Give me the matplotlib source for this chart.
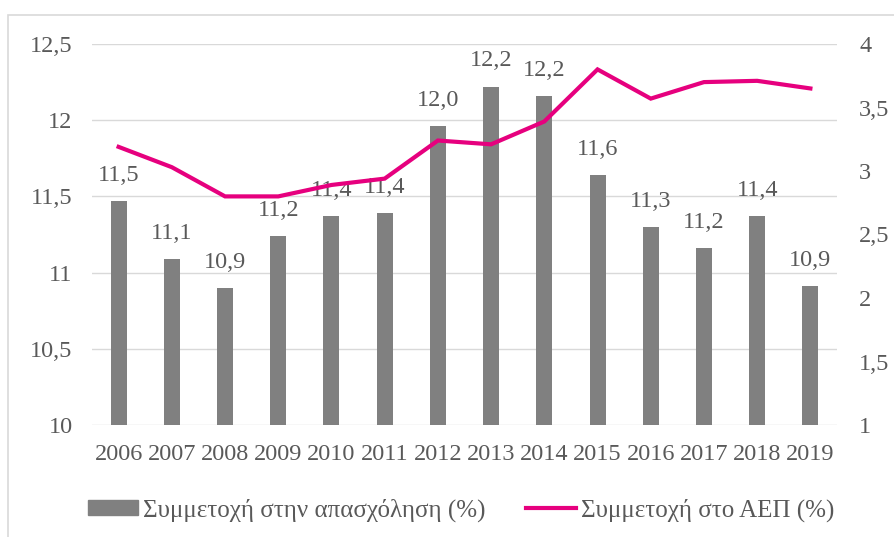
import numpy as np
import matplotlib.pyplot as plt
from matplotlib.patches import Rectangle
from matplotlib.lines import Line2D

years = ["2006", "2007", "2008", "2009", "2010", "2011", "2012",
         "2013", "2014", "2015", "2016", "2017", "2018", "2019"]
employment = [11.47, 11.09, 10.90, 11.24, 11.37, 11.39, 11.96,
              12.22, 12.16, 11.64, 11.30, 11.16, 11.37, 10.91]
gdp = [3.19, 3.03, 2.80, 2.80, 2.89, 2.94, 3.24,
       3.21, 3.39, 3.80, 3.57, 3.70, 3.71, 3.65]

bar_name = "Συμμετοχή στην απασχόληση (%)"
line_name = "Συμμετοχή στο ΑΕΠ (%)"

plt.rcParams['font.family'] = ['Liberation Serif', 'DejaVu Serif']
txt = "#595959"
bar_col = "#808080"
line_col = "#E6007E"
fs = 17.5

fig = plt.figure(figsize=(8.94, 5.37), dpi=100)
# chart frame
fig.patches.append(Rectangle((8 / 894, -0.1), 1.0, 1 - 15 / 537 + 0.1,
                             transform=fig.transFigure, fill=False,
                             edgecolor="#d9d9d9", linewidth=1.2))

ax = fig.add_axes([92 / 894, 1 - 425 / 537, (837 - 92) / 894, (425 - 44) / 537])
x = np.arange(len(years))
ax.bar(x, employment, width=0.3, color=bar_col, zorder=2)
ax.set_ylim(10, 12.5)
ax.set_xlim(-0.5, len(years) - 0.5)
ax.set_yticks([10, 10.5, 11, 11.5, 12, 12.5])
ax.set_yticklabels(["10", "10,5", "11", "11,5", "12", "12,5"])
ax.set_xticks(x)
ax.set_xticklabels(years)
ax.grid(axis="y", color="#d9d9d9", linewidth=1, zorder=0)
ax.set_axisbelow(True)
for s in ax.spines.values():
    s.set_visible(False)
ax.tick_params(axis="y", length=0, pad=14, labelsize=fs, labelcolor=txt)
ax.tick_params(axis="x", length=0, pad=14, labelsize=fs, labelcolor=txt)

for xi, v in zip(x, employment):
    ax.annotate(f"{v:.1f}".replace(".", ","), (xi, v), xytext=(0, 11),
                textcoords="offset points", ha="center", va="bottom",
                fontsize=fs, color=txt)

ax2 = ax.twinx()
ax2.plot(x, gdp, color=line_col, linewidth=3, solid_joinstyle="miter", zorder=3)
ax2.set_ylim(1, 4)
ax2.set_yticks([1, 1.5, 2, 2.5, 3, 3.5, 4])
ax2.set_yticklabels(["1", "1,5", "2", "2,5", "3", "3,5", "4"])
for s in ax2.spines.values():
    s.set_visible(False)
ax2.tick_params(axis="y", length=0, pad=16, labelsize=fs, labelcolor=txt)

handles = [Rectangle((0, 0), 1, 1, color=bar_col),
           Line2D([0], [0], color=line_col, linewidth=3)]
fig.legend(handles, [bar_name, line_name], loc="center",
           bbox_to_anchor=(0.516, 1 - 510 / 537), ncol=2, frameon=False,
           fontsize=18, labelcolor=txt, handlelength=2.0, handleheight=0.5,
           handletextpad=0.2, columnspacing=1.6)

fig.savefig("out.png", dpi=100)
